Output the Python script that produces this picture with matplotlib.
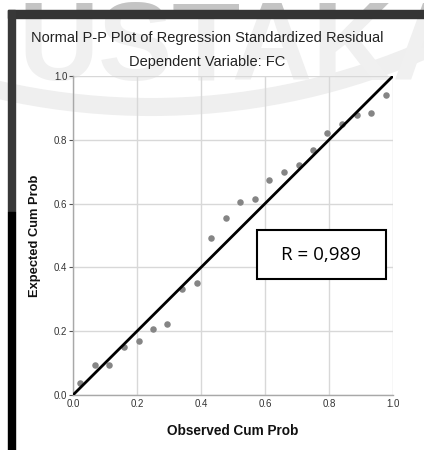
import numpy as np
import matplotlib
matplotlib.use("Agg")
import matplotlib.pyplot as plt
from matplotlib.patches import Rectangle, Circle

plt.rcParams['font.family'] = ['Liberation Sans', 'DejaVu Sans']

# observed vs expected cumulative probabilities
observed = [0.023, 0.068, 0.114, 0.159, 0.205, 0.250, 0.295, 0.341, 0.386, 0.432, 0.477,
            0.523, 0.568, 0.614, 0.659, 0.705, 0.750, 0.795, 0.841, 0.886, 0.932, 0.977]
expected = [0.037, 0.093, 0.093, 0.151, 0.168, 0.208, 0.223, 0.331, 0.352, 0.493, 0.556,
            0.604, 0.615, 0.673, 0.699, 0.720, 0.768, 0.822, 0.851, 0.879, 0.885, 0.940]
ref_line = [0.0, 1.0]
ticks = [0.0, 0.2, 0.4, 0.6, 0.8, 1.0]
tick_labels = ["0.0", "0.2", "0.4", "0.6", "0.8", "1.0"]
r_text = "R = 0,989"
watermark = "USTAKA"

W, H = 424, 450
fig = plt.figure(figsize=(W / 100, H / 100), dpi=100)
fig.patch.set_facecolor("white")

# background layer in pixel coords: faint watermark + swoosh
bg = fig.add_axes([0, 0, 1, 1], zorder=-10)
bg.set_xlim(0, W)
bg.set_ylim(H, 0)
bg.axis("off")
bg.add_patch(Circle((151, -579), 686, fill=False, lw=13, edgecolor="#efefef"))
bg.text(18, 80, watermark, fontsize=80, fontweight="bold", color="#f0f0f0",
        ha="left", va="baseline")

# the part of the watermark above the frame is darker
strip = fig.add_axes([0, 1 - 10 / H, 1, 10 / H], zorder=-9)
strip.set_xlim(0, W)
strip.set_ylim(10, 0)
strip.axis("off")
strip.text(18, 80, watermark, fontsize=80, fontweight="bold", color="#c4c4c4",
           ha="left", va="baseline", clip_on=True)

# dark frame bars (top and left)
fig.patches.append(Rectangle((8 / W, 1 - 18 / H), 1, 8 / H, transform=fig.transFigure,
                             color="#353535", zorder=1))
fig.patches.append(Rectangle((8 / W, 1 - 212 / H), 7 / W, 202 / H, transform=fig.transFigure,
                             color="#383838", zorder=1))
fig.patches.append(Rectangle((8 / W, 0), 7 / W, 1 - 212 / H, transform=fig.transFigure,
                             color="black", zorder=1))

ax = fig.add_axes([73 / W, 1 - 395 / H, 320 / W, 319 / H])
ax.set_facecolor("none")

ax.scatter(observed, expected, s=22, color="#858585", zorder=3, linewidths=0)
ax.plot(ref_line, ref_line, color="black", lw=2, zorder=4, solid_capstyle="butt")

ax.set_xlim(0, 1)
ax.set_ylim(0, 1)
ax.set_xticks(ticks)
ax.set_xticklabels(tick_labels)
ax.set_yticks(ticks)
ax.set_yticklabels(tick_labels)
ax.grid(True, color="#d8d8d8", lw=1)
ax.set_axisbelow(True)
ax.tick_params(axis="both", labelsize=7, colors="#555555", length=3, width=0.8,
               labelcolor="#333333", pad=1)
ax.tick_params(axis="x", length=0, pad=3)
for side in ["top", "right"]:
    ax.spines[side].set_visible(False)
for side in ["left", "bottom"]:
    ax.spines[side].set_color("#a8a8a8")
    ax.spines[side].set_linewidth(1)

ax.set_xlabel("Observed Cum Prob", fontsize=9.8, fontweight="bold", labelpad=11,
              color="#111111")
ax.set_ylabel("Expected Cum Prob", fontsize=9.3, fontweight="bold", labelpad=9,
              color="#111111")

fig.text(207 / W, 1 - 38 / H, "Normal P-P Plot of Regression Standardized Residual",
         fontsize=10.5, ha="center", va="center", color="#222222")
fig.text(207 / W, 1 - 62 / H, "Dependent Variable: FC",
         fontsize=10.5, ha="center", va="center", color="#222222")

# annotation box with correlation
ax.add_patch(Rectangle((0.575, 0.3625), 0.403, 0.156, transform=ax.transAxes,
                       facecolor="white", edgecolor="black", lw=1.5, zorder=5))
ax.text(0.7765, 0.44, r_text, transform=ax.transAxes, ha="center", va="center",
        fontsize=13.5, zorder=6, family=["Open Sans", "DejaVu Sans"])

fig.savefig("out.png", dpi=100)
